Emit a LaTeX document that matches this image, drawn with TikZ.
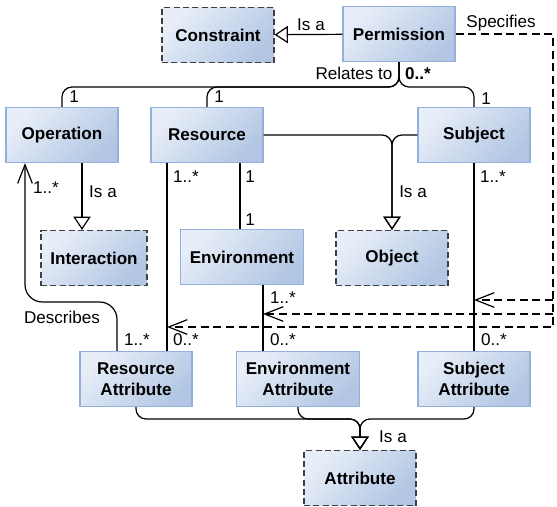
\documentclass[tikz,border=0pt]{standalone}
\usepackage{fontspec}
\setmainfont{Liberation Sans}
\usetikzlibrary{arrows.meta}
\definecolor{boxlt}{HTML}{E8EEF8}
\definecolor{boxdk}{HTML}{B2C6E3}
\definecolor{boxln}{HTML}{92B0DC}
\definecolor{dashln}{HTML}{404040}

\begin{document}
\begin{tikzpicture}[x=0.75pt,y=0.75pt,yscale=-1,xscale=1,
	font=\fontsize{12.8pt}{15.5pt}\selectfont,
	cls/.style={draw=boxln, line width=0.9pt, top color=boxlt, bottom color=boxdk, shading angle=45, minimum width=84pt, minimum height=41.25pt, inner sep=2pt, align=center, font=\fontsize{12.8pt}{15.5pt}\selectfont\bfseries},
	abstr/.style={cls, draw=dashln, dash pattern=on 4.5pt off 2.5pt},
	lbl/.style={inner sep=0.75pt},
	conn/.style={line width=0.9pt},
	isa/.style={conn, -{Triangle[open, length=10pt, width=13pt]}},
	opn/.style={conn, -{Straight Barb[length=14pt, width=11pt]}},
	spec/.style={opn, dash pattern=on 6pt off 3.5pt}]
	\useasboundingbox (0,0) rectangle (557,507);
	\node[abstr] (constr) at (218,35) {Constraint};
	\node[cls] (perm) at (399,34) {Permission};
	\node[cls] (op) at (62,135) {Operation};
	\node[cls] (res) at (207,135) {Resource};
	\node[cls] (subj) at (474,135) {Subject};
	\node[abstr, minimum width=79.5pt] (inter) at (94,258) {Interaction};
	\node[cls, minimum width=92pt] (env) at (242,257) {Environment};
	\node[abstr] (obj) at (392,258) {Object};
	\node[cls] (ra) at (136,379) {Resource\\Attribute};
	\node[cls, minimum width=92pt] (ea) at (298,379) {Environment\\Attribute};
	\node[cls] (sa) at (474,379) {Subject\\Attribute};
	\node[abstr] (attr) at (360,478) {Attribute};
	\coordinate (rel) at (399,87);
	\coordinate (attfork) at (360,419);
	\coordinate (desc) at (25,302);
	\coordinate (sr) at (167,327);
	\coordinate (se) at (263,314);
	\coordinate (ss) at (474,300);
	\coordinate (sc) at (553,327);
	\draw[isa] (perm) -- (constr);
	\draw[conn, rounded corners=7.5pt] (op.north) |- (rel) -- (perm.south);
	\draw[conn, rounded corners=7.5pt] (res.north) |- (rel) -- (perm.south);
	\draw[conn, rounded corners=7.5pt] (subj.north) |- (rel) -- (perm.south);
	\draw[isa, rounded corners=7.5pt] (res.east) -| (obj.north);
	\draw[isa, rounded corners=7.5pt] (subj.west) -| (obj.north);
	\draw[isa] ([xshift=15pt]op.south) -- ([xshift=15pt]op.south |- inter.north);
	\draw[opn, rounded corners=13pt] ([xshift=-14.25pt]ra.north) |- (desc) -- (desc |- op.south);
	\draw[conn] ([xshift=-30pt]res.south) -- ([xshift=-30pt]res.south |- ra.north);
	\draw[conn] ([xshift=24.75pt]res.south) -- ([xshift=24.75pt]res.south |- env.north);
	\draw[conn] ([xshift=15.75pt]env.south) -- ([xshift=15.75pt]env.south |- ea.north);
	\draw[conn] (subj) -- (sa);
	\draw[isa, rounded corners=7.5pt] (ra.south) |- (attfork) -- (attr.north);
	\draw[isa, rounded corners=7.5pt] (ea.south) |- (attfork) -- (attr.north);
	\draw[isa, rounded corners=7.5pt] (sa.south) |- (attfork) -- (attr.north);
	\draw[spec] (perm.east) -| (sc) -- (sr);
	\draw[spec] (sc |- se) -- (se);
	\draw[spec] (sc |- ss) -- (ss);
	\node[lbl] (l-isa1) at (311,25) {Is a};
	\node[lbl] (l-spec) at (501,23) {Specifies};
	\node[lbl] (l-rel) at (354,73) {Relates to};
	\node[lbl, font=\fontsize{12.8pt}{15.5pt}\selectfont\bfseries] (m-perm) at (418,74) {0..*};
	\node[lbl] (m-op) at (74,97) {1};
	\node[lbl] (m-res) at (219,97) {1};
	\node[lbl] (m-subj) at (486,99) {1};
	\node[lbl] (m-desc1) at (46,188) {1..*};
	\node[lbl] (l-isa2) at (103,192) {Is a};
	\node[lbl] (m-res1) at (186,177) {1..*};
	\node[lbl] (m-res2) at (250,177) {1};
	\node[lbl] (m-env1) at (250,220) {1};
	\node[lbl] (l-isa3) at (413,192) {Is a};
	\node[lbl] (m-subj1) at (493,177) {1..*};
	\node[lbl] (l-desc) at (62,317) {Describes};
	\node[lbl] (m-desc2) at (137,340) {1..*};
	\node[lbl] (m-ra) at (186,340) {0..*};
	\node[lbl] (m-env2) at (283,298) {1..*};
	\node[lbl] (m-ea) at (283,340) {0..*};
	\node[lbl] (m-sa) at (494,340) {0..*};
	\node[lbl] (l-isa4) at (393,437) {Is a};
\end{tikzpicture}
\end{document}
